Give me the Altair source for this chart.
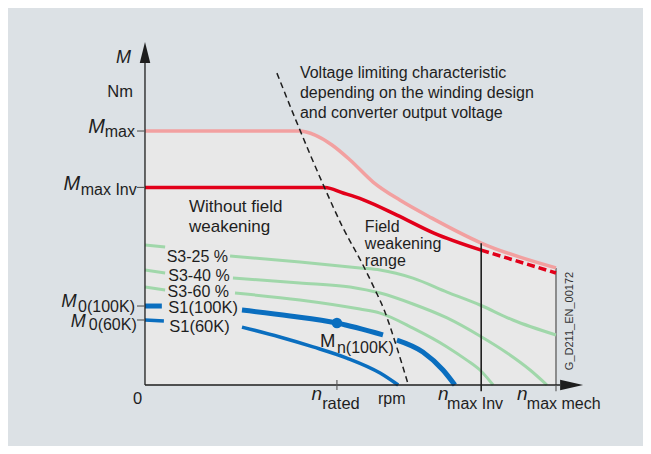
import altair as alt
import pandas as pd

# ---------------- data (n = speed in % of n_max mech, M = torque in % of M_max) ----------------
# M_max curve (pink)
mmax_n = [0, 37.5, 41.4, 45.5, 49.9, 55.5, 62.0, 69.8, 81.8, 100]
mmax_m = [100, 100, 98.4, 94.5, 88.6, 79.9, 72.8, 65.7, 55.9, 46.1]
# M_max Inv curve (red), solid up to n_max Inv, dashed beyond
minv_n = [0, 43.8, 48.2, 53.0, 61.3, 70.3, 81.8]
minv_m = [77.8, 77.8, 75.6, 73.0, 66.9, 59.8, 53.1]
minvd_n = [81.8, 100]
minvd_m = [53.1, 44.1]
# S3 duty curves (green): short key stub + main curve
s3_25_key_n = [0, 4.9]
s3_25_key_m = [55.1, 54.3]
s3_25_n = [20.7, 37.7, 52.3, 57.2, 65.2, 73.5, 81.5, 89.5, 100]
s3_25_m = [50.8, 48.4, 46.1, 45.3, 42.1, 36.6, 31.5, 25.6, 19.7]
s3_40_key_n = [0, 4.9]
s3_40_key_m = [45.3, 44.1]
s3_40_n = [21.4, 37.7, 49.9, 57.2, 65.2, 73.5, 81.5, 88.1, 93.7, 97.8]
s3_40_m = [42.1, 40.2, 38.6, 36.2, 31.9, 26.4, 19.3, 12.6, 5.9, 0]
s3_60_key_n = [0, 4.9]
s3_60_key_m = [38.6, 37.4]
s3_60_n = [21.9, 37.7, 52.3, 57.2, 65.2, 73.5, 78.3, 81.5, 84.7]
s3_60_m = [36.2, 33.5, 29.9, 28.3, 22.4, 15.0, 9.8, 5.9, 0]
# S1 curves (blue)
s1_100_key_n = [0, 4.1]
s1_100_key_m = [31.1, 31.1]
s1_100a_n = [23.6, 35.3, 46.7, 57.9]
s1_100a_m = [29.5, 27.2, 24.4, 19.7]
s1_100b_n = [61.3, 67.6, 72.5, 75.4]
s1_100b_m = [17.7, 13.0, 5.9, 0]
s1_60_key_n = [0, 4.6]
s1_60_key_m = [25.6, 25.2]
s1_60_n = [23.6, 32.8, 40.9, 49.1, 57.2, 61.6]
s1_60_m = [22.8, 18.9, 15.0, 10.6, 4.7, 0]
# voltage limiting characteristic (black dashed)
volt_n = [32.1, 36.7, 43.6, 48.2, 52.8, 56.0, 58.2, 61.1, 64.0]
volt_m = [122.8, 104.3, 78.0, 61.8, 48.0, 37.4, 29.5, 15.7, 0.4]
# key values
n_rated, n_max_inv, n_max_mech = 46.7, 81.8, 100
M_max, M_max_inv, M0_100, M0_60 = 100, 77.8, 31.1, 25.6
rated_pt_n, rated_pt_m = [46.7], [24.4]

# text labels
lab_text = ["M", "Nm", "M", "max", "M", "max Inv", "M", "0(100K)", "M", "0(60K)", "0",
            "n", "rated", "rpm", "n", "max Inv", "n", "max mech",
            "S3-25 %", "S3-40 %", "S3-60 %", "S1(100K)", "S1(60K)",
            "Without field", "weakening", "Field", "weakening", "range",
            "Voltage limiting characteristic", "depending on the winding design",
            "and converter output voltage", "M", "n(100K)"]
lab_n = [-3.41, -2.92, -9.73, -2.43, -15.8, -2.0, -16.6, -2.43, -14.4, -2.0, -1.82,
         40.5, 43.1, 56.7, 71.3, 73.5, 90.5, 92.9,
         5.28, 5.67, 5.5, 5.67, 5.9,
         10.7, 10.7, 53.5, 53.5, 53.5,
         37.7, 37.7, 37.7, 42.6, 46.7]
lab_m = [126.8, 113.3, 99.1, 97.5, 76.8, 74.8, 30.8, 28.9, 22.7, 21.5, -7.5,
         -5.9, -9.4, -7.5, -5.9, -9.4, -5.9, -9.4,
         48.5, 41.1, 34.8, 28.2, 21.0,
         68.1, 60.2, 60.2, 53.6, 47.0,
         120.7, 112.9, 105.0, 15.1, 12.5]
lab_fs = [18, 16.5, 20, 16, 20, 16, 18.5, 16, 18, 16, 16.5,
          19, 16.5, 16, 19, 16, 19, 16,
          16, 16, 16, 16.5, 16.5,
          17, 17, 16, 16, 16,
          16, 16, 16, 18.5, 16]
lab_it = [1, 0, 1, 0, 1, 0, 1, 0, 1, 0, 0,
          1, 0, 0, 1, 0, 1, 0,
          0, 0, 0, 0, 0,
          0, 0, 0, 0, 0,
          0, 0, 0, 0, 0]
lab_al = ["right"] * 10 + ["center"] + ["left"] * 22
code_text = "G_D211_EN_00172"

# ---------------- styling / layout ----------------
FONT = "Liberation Sans"
BG = "#dce1e5"
FILL = "#e8e8e8"
PINK = "#f2a0a0"
RED = "#e2001a"
GREEN = "#a0d7aa"
BLUE = "#0a6ebf"
INK = "#1e1e1e"

xs = alt.Scale(domain=[-33.33, 121.17], nice=False, zero=False)
ys = alt.Scale(domain=[-24.01, 148.43], nice=False, zero=False)
X = lambda f: alt.X(f, type="quantitative", scale=xs, axis=None)
Y = lambda f: alt.Y(f, type="quantitative", scale=ys, axis=None)


def line_df(segments):
    rows = []
    for seg, ns, ms in segments:
        for i, (a, b) in enumerate(zip(ns, ms)):
            rows.append(dict(seg=seg, i=i, n=a, m=b))
    return pd.DataFrame(rows)


def lines(segments, color, width, dash=None, interp="monotone"):
    kw = dict(color=color, strokeWidth=width, interpolate=interp, strokeCap="butt")
    if dash:
        kw["strokeDash"] = dash
    return alt.Chart(line_df(segments)).mark_line(**kw).encode(
        x=X("n"), y=Y("m"), detail="seg:N", order="i:Q")


def rules(rows, color, width):
    df = pd.DataFrame(rows, columns=["x", "x2", "y", "y2"])
    return alt.Chart(df).mark_rule(color=color, strokeWidth=width).encode(
        x=X("x"), x2="x2:Q", y=Y("y"), y2="y2:Q")


layers = []
# filled operating region under M_max
layers.append(alt.Chart(pd.DataFrame({"n": mmax_n, "m": mmax_m})).mark_area(
    color=FILL, interpolate="monotone").encode(x=X("n"), y=Y("m"), y2=alt.datum(0)))
# right border at n_max mech
layers.append(rules([[n_max_mech, n_max_mech, 0, mmax_m[-1]]], "#6e6e6e", 1.5))
# green S3 curves
layers.append(lines([("a", s3_25_key_n, s3_25_key_m), ("b", s3_25_n, s3_25_m),
                     ("c", s3_40_key_n, s3_40_key_m), ("d", s3_40_n, s3_40_m),
                     ("e", s3_60_key_n, s3_60_key_m), ("f", s3_60_n, s3_60_m)], GREEN, 3))
# pink and red limits
layers.append(lines([("a", mmax_n, mmax_m)], PINK, 3.5))
layers.append(lines([("a", minv_n, minv_m)], RED, 3.5))
layers.append(lines([("a", minvd_n, minvd_m)], RED, 3.5, dash=[8, 4], interp="linear"))
# blue S1 curves
layers.append(lines([("a", s1_100_key_n, s1_100_key_m), ("b", s1_100a_n, s1_100a_m),
                     ("c", s1_100b_n, s1_100b_m)], BLUE, 5))
layers.append(lines([("a", s1_60_key_n, s1_60_key_m), ("b", s1_60_n, s1_60_m)], BLUE, 3.5))
# voltage limiting characteristic
layers.append(lines([("a", volt_n, volt_m)], INK, 1.5, dash=[6, 4]))
# n_max Inv vertical
layers.append(rules([[n_max_inv, n_max_inv, -2.5, 55.8]], INK, 1.6))
# axes
layers.append(rules([[0, 0, 0, 126.8], [0, 101.0, 0, 0]], INK, 1.3))
# ticks
layers.append(rules([[-1.95, 0, M_max, M_max], [-1.95, 0, M_max_inv, M_max_inv],
                     [-1.95, 0, M0_100, M0_100], [-1.95, 0, M0_60, M0_60],
                     [n_rated, n_rated, 2.0, -2.0], [n_max_mech, n_max_mech, 0, -2.5]],
                    "#555555", 1.1))
# arrowheads
layers.append(alt.Chart(pd.DataFrame({"n": [0], "m": [130.9]})).mark_point(
    shape="M0,-1L0.5,1L-0.5,1Z", size=441, filled=True, color=INK, opacity=1, strokeWidth=0
).encode(x=X("n"), y=Y("m")))
layers.append(alt.Chart(pd.DataFrame({"n": [103.8], "m": [0]})).mark_point(
    shape="M1,0L-1,0.46L-1,-0.46Z", size=529, filled=True, color=INK, opacity=1, strokeWidth=0
).encode(x=X("n"), y=Y("m")))
# rated point
layers.append(alt.Chart(pd.DataFrame({"n": rated_pt_n, "m": rated_pt_m})).mark_point(
    shape="circle", size=110, filled=True, color=BLUE, opacity=1, strokeWidth=0
).encode(x=X("n"), y=Y("m")))

# texts
labels = pd.DataFrame({"t": lab_text, "n": lab_n, "m": lab_m, "fs": lab_fs,
                       "it": lab_it, "al": lab_al})
for (it, al), sub in labels.groupby(["it", "al"]):
    layers.append(alt.Chart(sub).mark_text(
        font=FONT, fontStyle="italic" if it else "normal", align=al,
        baseline="alphabetic", color=INK
    ).encode(x=X("n"), y=Y("m"), text="t:N", size=alt.Size("fs:Q", scale=None)))

layers.append(alt.Chart(pd.DataFrame({"t": [code_text], "n": [103.4], "m": [25.2]})).mark_text(
    font=FONT, fontSize=11, angle=270, align="center", baseline="middle", color="#333333"
).encode(x=X("n"), y=Y("m"), text="t:N"))

chart = alt.layer(*layers).properties(
    width=635, height=438, background=BG, padding=0,
    autosize=alt.AutoSizeParams(type="none")
).configure_view(stroke=None)

chart.save("out.html", embed_options={"renderer": "svg", "actions": False})
